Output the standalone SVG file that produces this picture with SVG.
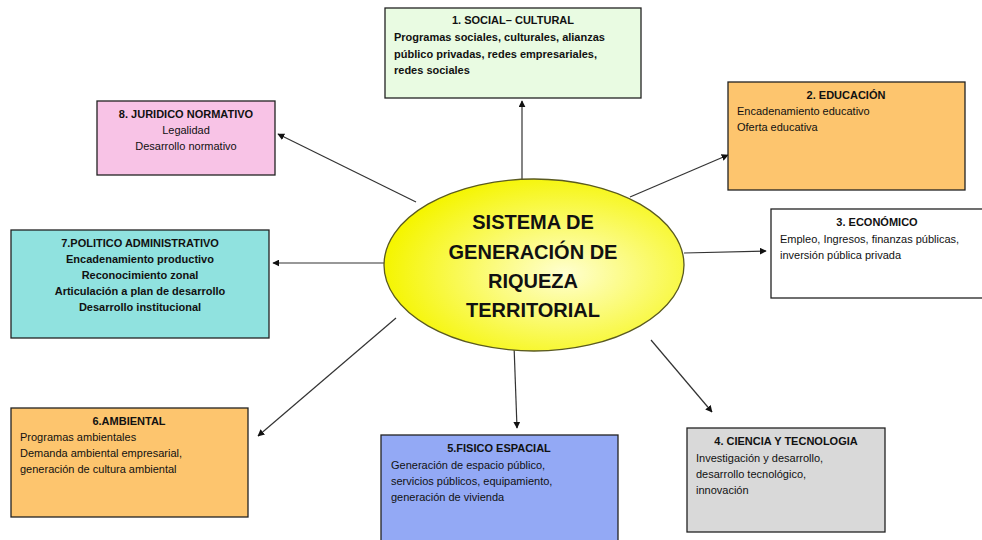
<svg xmlns="http://www.w3.org/2000/svg" width="982" height="540" viewBox="0 0 982 540">
<style>
.box{stroke:#222;stroke-width:1.3}
.t{font-family:"Liberation Sans",Arial,sans-serif;font-size:11px;fill:#111}
.b{font-weight:bold}
.c{text-anchor:middle}
.big{font-family:"Liberation Sans",Arial,sans-serif;font-size:20px;font-weight:bold;fill:#111;text-anchor:middle}
.con{stroke:#333;stroke-width:1.2;fill:none;marker-end:url(#ah)}
</style>
<defs>
<marker id="ah" viewBox="0 0 10 10" refX="9" refY="5" markerWidth="7" markerHeight="7" orient="auto" markerUnits="userSpaceOnUse">
<path d="M0,0 L10,5 L0,10 z" fill="#111"/>
</marker>
<radialGradient id="yg" cx="0.6" cy="0.55" r="0.6">
<stop offset="0" stop-color="#ffffd0"/>
<stop offset="1" stop-color="#f5f500"/>
</radialGradient>
</defs>
<rect width="982" height="540" fill="#fff"/>
<g id="connectors">
<line class="con" x1="522" y1="180" x2="522" y2="101"/>
<line class="con" x1="630" y1="197" x2="728" y2="155"/>
<line class="con" x1="684" y1="253" x2="766" y2="251"/>
<line class="con" x1="651" y1="340" x2="712" y2="412"/>
<line class="con" x1="514" y1="345" x2="517" y2="428"/>
<line class="con" x1="396" y1="318" x2="258" y2="436"/>
<line class="con" x1="384" y1="263" x2="273" y2="263"/>
<line class="con" x1="416" y1="202" x2="278" y2="134"/>
</g>
<g id="center">
<ellipse cx="534" cy="265" rx="150" ry="86" fill="url(#yg)" stroke="#5a5a20" stroke-width="1.3"/>
<text class="big" x="533" y="229">SISTEMA DE</text>
<text class="big" x="533" y="259">GENERACIÓN DE</text>
<text class="big" x="533" y="288">RIQUEZA</text>
<text class="big" x="533" y="317">TERRITORIAL</text>
</g>
<g id="n1">
<rect class="box" x="385" y="8" width="256" height="90" fill="#e9fbe2"/>
<text class="t b c" x="513" y="24">1. SOCIAL– CULTURAL</text>
<text class="t b" x="394" y="41">Programas sociales,  culturales, alianzas</text>
<text class="t b" x="394" y="58">público privadas, redes empresariales,</text>
<text class="t b" x="394" y="74">redes sociales</text>
</g>
<g id="n2">
<rect class="box" x="728" y="82" width="237" height="108" fill="#fdc56e"/>
<text class="t b c" x="846" y="99">2. EDUCACIÓN</text>
<text class="t" x="737" y="115">Encadenamiento educativo</text>
<text class="t" x="737" y="131">Oferta educativa</text>
</g>
<g id="n3">
<rect class="box" x="771" y="209" width="212" height="89" fill="#fff"/>
<text class="t b c" x="877" y="226">3. ECONÓMICO</text>
<text class="t" x="780" y="243">Empleo, Ingresos, finanzas públicas,</text>
<text class="t" x="780" y="259">inversión pública privada</text>
</g>
<g id="n4">
<rect class="box" x="687" y="428" width="198" height="104" fill="#d9d9d9"/>
<text class="t b c" x="786" y="445">4. CIENCIA Y TECNOLOGIA</text>
<text class="t" x="696" y="462">Investigación y desarrollo,</text>
<text class="t" x="696" y="478">desarrollo tecnológico,</text>
<text class="t" x="696" y="494">innovación</text>
</g>
<g id="n5">
<rect class="box" x="381" y="435" width="237" height="106" fill="#93a9f5"/>
<text class="t b c" x="499" y="452">5.FISICO ESPACIAL</text>
<text class="t" x="391" y="469">Generación de espacio público,</text>
<text class="t" x="391" y="485">servicios públicos, equipamiento,</text>
<text class="t" x="391" y="501">generación de vivienda</text>
</g>
<g id="n6">
<rect class="box" x="11" y="408" width="237" height="109" fill="#fdc56e"/>
<text class="t b c" x="129" y="425">6.AMBIENTAL</text>
<text class="t" x="20" y="441">Programas ambientales</text>
<text class="t" x="20" y="457">Demanda ambiental  empresarial,</text>
<text class="t" x="20" y="473">generación de cultura ambiental</text>
</g>
<g id="n7">
<rect class="box" x="11" y="230" width="258" height="108" fill="#90e2df"/>
<text class="t b c" x="140" y="247">7.POLITICO ADMINISTRATIVO</text>
<text class="t b c" x="140" y="263">Encadenamiento productivo</text>
<text class="t b c" x="140" y="279">Reconocimiento zonal</text>
<text class="t b c" x="140" y="295">Articulación a plan de desarrollo</text>
<text class="t b c" x="140" y="311">Desarrollo institucional</text>
</g>
<g id="n8">
<rect class="box" x="97" y="101" width="178" height="74" fill="#f8c3e6"/>
<text class="t b c" x="186" y="118">8. JURIDICO NORMATIVO</text>
<text class="t c" x="186" y="134">Legalidad</text>
<text class="t c" x="186" y="150">Desarrollo normativo</text>
</g>
</svg>
